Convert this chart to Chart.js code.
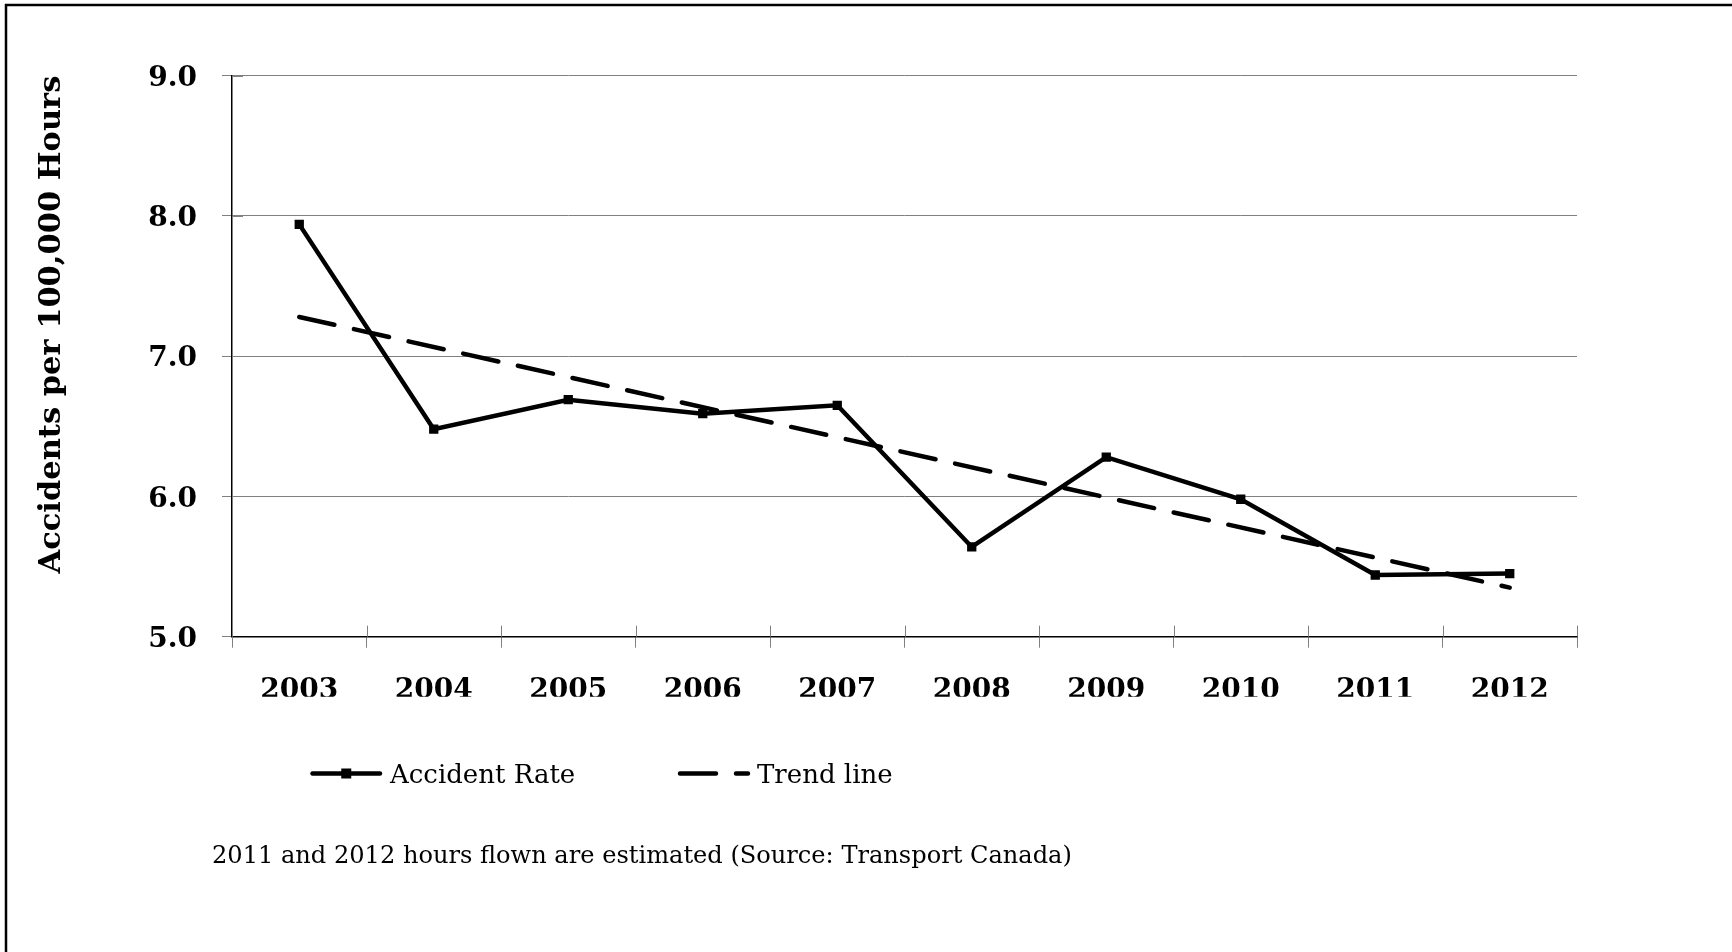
<!DOCTYPE html>
<html>
<head>
<meta charset="utf-8">
<script src="https://cdn.jsdelivr.net/npm/chart.js@4.4.1/dist/chart.umd.min.js"></script>
<style>
  html, body { margin: 0; padding: 0; background: #fff; }
  #wrap { position: relative; width: 1732px; height: 952px; }
</style>
</head>
<body>
<div id="wrap"><canvas id="c" width="1732" height="952"></canvas></div>
<script>
// Accident rate per 100,000 hours flown, 2003-2012
const years = ['2003', '2004', '2005', '2006', '2007', '2008', '2009', '2010', '2011', '2012'];
const accidentRate = [7.94, 6.48, 6.69, 6.59, 6.65, 5.64, 6.28, 5.98, 5.44, 5.45];
// Linear trend: value at first and last year
const trendYears = ['2003', '2012'];
const trendValues = [7.28, 5.35];
const yTicks = [5, 6, 7, 8, 9];

const SERIF = '"DejaVu Serif", "Liberation Serif", serif';
const footnote = '2011 and 2012 hours flown are estimated (Source: Transport Canada)';

// Frame, cross-style tick marks, legend and footnote
const decorations = {
  id: 'decorations',
  beforeDatasetsDraw(chart) {
    const ctx = chart.ctx;
    const x = chart.scales.x, y = chart.scales.y;
    const area = chart.chartArea;
    ctx.save();
    ctx.strokeStyle = '#808080';
    ctx.lineWidth = 1;
    // inner half of the value-axis ticks
    yTicks.forEach(v => {
      const py = Math.round(y.getPixelForValue(v)) + 0.5;
      ctx.beginPath();
      ctx.moveTo(area.left, py);
      ctx.lineTo(area.left + 11, py);
      ctx.stroke();
    });
    // inner half of the category-axis ticks (between categories)
    for (let i = 0; i <= years.length; i++) {
      const px = Math.round(x.getPixelForValue(i - 0.5)) + 0.5;
      ctx.beginPath();
      ctx.moveTo(px, area.bottom);
      ctx.lineTo(px, area.bottom - 11);
      ctx.stroke();
    }
    ctx.restore();
  },
  afterDraw(chart) {
    const ctx = chart.ctx;
    const ds = chart.data.datasets;
    ctx.save();
    // outer frame (left and top edges)
    ctx.strokeStyle = '#000';
    ctx.lineWidth = 2.5;
    ctx.beginPath();
    ctx.moveTo(6, chart.height + 2);
    ctx.lineTo(6, 5);
    ctx.lineTo(chart.width + 2, 5);
    ctx.stroke();

    // legend
    const ly = 773.5;
    const items = [
      { ds: ds[0], x0: 312.5, x1: 380, tx: 390 },
      { ds: ds[1], x0: 680, x1: 748, tx: 757 }
    ];
    ctx.font = '26px ' + SERIF;
    ctx.textBaseline = 'alphabetic';
    ctx.fillStyle = '#000';
    items.forEach(it => {
      ctx.save();
      ctx.strokeStyle = it.ds.borderColor;
      ctx.lineWidth = it.ds.borderWidth;
      ctx.lineCap = 'round';
      ctx.setLineDash(it.ds.borderDash || []);
      ctx.beginPath();
      ctx.moveTo(it.x0, ly);
      ctx.lineTo(it.x1, ly);
      ctx.stroke();
      ctx.restore();
      if (it.ds.pointRadius > 0) {
        const s = 10;
        ctx.fillStyle = it.ds.pointBackgroundColor;
        ctx.fillRect((it.x0 + it.x1) / 2 - s / 2, ly - s / 2, s, s);
        ctx.fillStyle = '#000';
      }
      ctx.fillText(it.ds.label, it.tx, 783);
    });

    // footnote
    ctx.font = '24.1px ' + SERIF;
    ctx.fillText(footnote, 212, 863);
    ctx.restore();
  }
};

new Chart(document.getElementById('c'), {
  type: 'line',
  data: {
    labels: years,
    datasets: [
      {
        label: 'Accident Rate',
        data: accidentRate,
        borderColor: '#000',
        backgroundColor: '#000',
        borderWidth: 4.5,
        pointStyle: 'rect',
        pointRadius: 5.5,
        pointBorderWidth: 1.5,
        pointBackgroundColor: '#000',
        pointBorderColor: '#000',
        tension: 0,
        order: 1
      },
      {
        label: 'Trend line',
        data: trendYears.map((yr, i) => ({ x: yr, y: trendValues[i] })),
        borderColor: '#000',
        borderWidth: 4.5,
        borderDash: [36, 20],
        borderCapStyle: 'round',
        pointRadius: 0,
        tension: 0,
        order: 0
      }
    ]
  },
  options: {
    responsive: false,
    animation: false,
    devicePixelRatio: 1,
    layout: { padding: { left: 0, top: 75.7, right: 155, bottom: 255.3 } },
    plugins: {
      legend: { display: false },
      tooltip: { enabled: false }
    },
    scales: {
      x: {
        type: 'category',
        offset: true,
        grid: {
          display: true,
          offset: true,
          drawOnChartArea: false,
          drawTicks: true,
          tickLength: 11,
          tickColor: '#808080',
          tickWidth: 1
        },
        border: { color: '#000', width: 1.5 },
        ticks: {
          color: '#000',
          font: { family: SERIF, size: 28, weight: 'bold' },
          padding: 26,
          maxRotation: 0
        },
        afterFit(scale) { scale.height = 60; }
      },
      y: {
        min: 5,
        max: 9,
        afterBuildTicks(scale) { scale.ticks = yTicks.map(v => ({ value: v })); },
        grid: {
          color: '#808080',
          lineWidth: 1,
          drawTicks: true,
          tickLength: 10,
          tickColor: '#808080'
        },
        border: { color: '#000', width: 1.5 },
        ticks: {
          color: '#000',
          font: { family: SERIF, size: 28, weight: 'bold' },
          padding: 25,
          labelOffset: 3,
          callback: v => Number(v).toFixed(1)
        },
        title: {
          display: true,
          text: 'Accidents per 100,000 Hours',
          color: '#000',
          font: { family: SERIF, size: 30.5, weight: 'bold' },
          align: 'end',
          padding: { top: 34, bottom: 0 }
        },
        afterFit(scale) { scale.width = 232; }
      }
    }
  },
  plugins: [decorations]
});
</script>
</body>
</html>
